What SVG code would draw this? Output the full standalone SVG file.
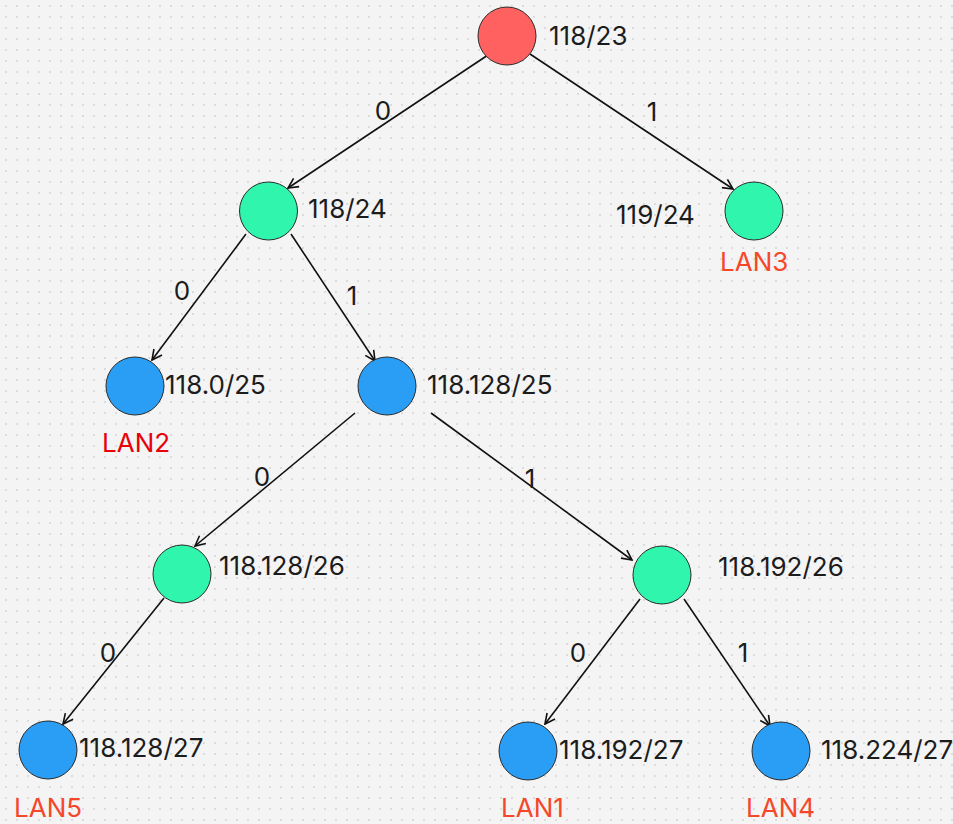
<svg xmlns="http://www.w3.org/2000/svg" width="953" height="824" viewBox="0 0 953 824">
<defs>
<pattern id="dots" x="0" y="0" width="11" height="11" patternUnits="userSpaceOnUse">
<circle cx="6" cy="6" r="0.8" fill="#bdbdbd"/>
</pattern>
<marker id="arr" viewBox="0 0 12 12" refX="11" refY="6" markerWidth="12" markerHeight="12" markerUnits="userSpaceOnUse" orient="auto">
<path d="M1,1 L11,6 L1,11" fill="none" stroke="#111" stroke-width="1.6"/>
</marker>
<style>
.n{stroke:#2b2b2b;stroke-width:1}
.red{fill:#ff6161}
.grn{fill:#30f5ad}
.blu{fill:#2a9df4}
.t{font-family:Inter,"Noto Sans","Liberation Sans",sans-serif;font-size:26px;fill:#1c1c1c}
.lan{font-family:Inter,"Noto Sans","Liberation Sans",sans-serif;font-size:26px;fill:#f5472a}
.e{stroke:#111;stroke-width:1.6;fill:none;marker-end:url(#arr)}
.el{font-family:Inter,"Noto Sans","Liberation Sans",sans-serif;font-size:26px;fill:#1c1c1c;text-anchor:middle}
</style>
</defs>
<rect width="953" height="824" fill="#f4f4f4"/>
<rect width="953" height="824" fill="url(#dots)"/>
<g id="connectors">
<line class="e" x1="488" y1="55" x2="288" y2="188"/>
<line class="e" x1="530" y1="54" x2="733" y2="189"/>
<line class="e" x1="246" y1="234" x2="152" y2="360"/>
<line class="e" x1="291" y1="234" x2="375" y2="361"/>
<line class="e" x1="355" y1="413" x2="195" y2="546"/>
<line class="e" x1="431" y1="413" x2="632" y2="560"/>
<line class="e" x1="164" y1="598" x2="63" y2="724"/>
<line class="e" x1="640" y1="599" x2="545" y2="724"/>
<line class="e" x1="684" y1="599" x2="770" y2="726"/>
<text class="el" x="383" y="120">0</text>
<text class="el" x="652" y="121">1</text>
<text class="el" x="182" y="300">0</text>
<text class="el" x="352" y="305">1</text>
<text class="el" x="262" y="486">0</text>
<text class="el" x="530" y="488">1</text>
<text class="el" x="108" y="662">0</text>
<text class="el" x="578" y="662">0</text>
<text class="el" x="743" y="662">1</text>
</g>
<g id="n-118-23"><circle class="n red" cx="507" cy="36" r="29"/><text class="t" x="549" y="45">118/23</text></g>
<g id="n-118-24"><circle class="n grn" cx="268.5" cy="211" r="29"/><text class="t" x="308" y="218">118/24</text></g>
<g id="n-119-24"><circle class="n grn" cx="754" cy="211" r="29"/><text class="t" x="616" y="224">119/24</text><text class="lan" x="720" y="271">LAN3</text></g>
<g id="n-118-0-25"><circle class="n blu" cx="135" cy="386" r="29"/><text class="t" x="165" y="394">118.0/25</text><text class="lan" x="102" y="452" style="fill:#e8000b">LAN2</text></g>
<g id="n-118-128-25"><circle class="n blu" cx="387" cy="386" r="29"/><text class="t" x="427" y="394">118.128/25</text></g>
<g id="n-118-128-26"><circle class="n grn" cx="182" cy="574" r="29"/><text class="t" x="219" y="575">118.128/26</text></g>
<g id="n-118-192-26"><circle class="n grn" cx="662" cy="575" r="29"/><text class="t" x="718" y="576">118.192/26</text></g>
<g id="n-118-128-27"><circle class="n blu" cx="48" cy="750" r="29"/><text class="t" x="79" y="757">118.128/27</text><text class="lan" x="14" y="817">LAN5</text></g>
<g id="n-118-192-27"><circle class="n blu" cx="528" cy="751" r="29"/><text class="t" x="559" y="759">118.192/27</text><text class="lan" x="501" y="817">LAN1</text></g>
<g id="n-118-224-27"><circle class="n blu" cx="781" cy="751" r="29"/><text class="t" x="821" y="759">118.224/27</text><text class="lan" x="746" y="817">LAN4</text></g>
</svg>
